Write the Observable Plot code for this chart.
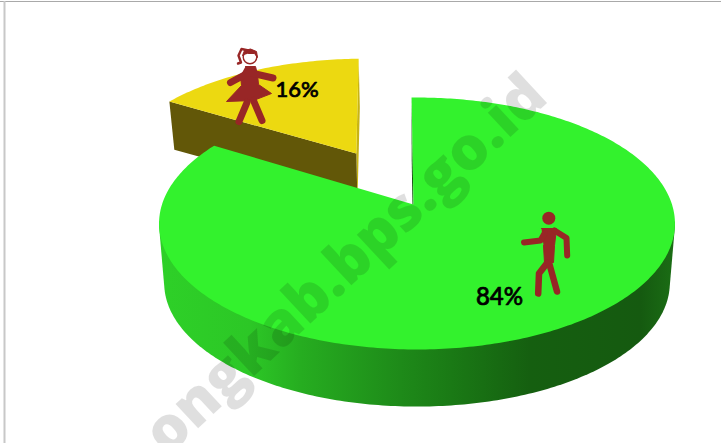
<!DOCTYPE html>
<html><head><meta charset="utf-8">
<script src="https://cdn.jsdelivr.net/npm/d3@7"></script>
<script src="https://cdn.jsdelivr.net/npm/@observablehq/plot@0.6"></script>
<style>html,body{margin:0;padding:0;background:#fff;overflow:hidden}</style>
</head><body><div id="chart"></div>
<script>
const categories = ["Laki-laki", "Perempuan"];
const values = [84, 16];
const labels = ["84%", "16%"];
const topColors = ["#33f22d", "#ecd911"];
const watermark = "ongkab.bps.go.id";

// Perspective view of the pie plane (reads as the 3D pie of the reference)
const view = {x0:416.5, y0:204, ax:255, by:123.1, k:0.1508, start:-1.4*Math.PI/180,
  explode:[0,0.511], rimShift:[0,0.003], apexShift:[-0.014,0.003], depth:[60,46], shrink:0.98};
const project = (X,Y) => {
  const w = 1 + view.k*Y;
  return [view.x0 + view.ax*X/w, view.y0 - view.by*Y/w];
};
const base = (p,i) => [view.x0+(p[0]-view.x0)*view.shrink, view.y0+(p[1]-view.y0)*view.shrink+view.depth[i]];

const arcs = d3.pie().sort(null).startAngle(view.start).endAngle(view.start+2*Math.PI)(values);
const wallStops = [[160,"#2ed028"],[250,"#2cc726"],[300,"#26ad20"],[400,"#1e8a19"],[450,"#1a7a15"],[530,"#155f10"],[640,"#155a10"],[675,"#1b6e15"]];

const polys = [];
const addPoly = (id,pts,c) => pts.forEach(p=>polys.push({id,x:p[0],y:p[1],c}));
arcs.forEach((a,i)=>{
  const mid=(a.startAngle+a.endAngle)/2, e=view.explode[i];
  const ox=e*Math.sin(mid), oy=e*Math.cos(mid);
  const apex=project(ox+view.apexShift[i],oy);
  const n=i===0?360:60;
  const ts=d3.range(n+1).map(j=>a.startAngle+(a.endAngle-a.startAngle)*j/n);
  const rim=ts.map(t=>project(ox+view.rimShift[i]+Math.sin(t),oy+Math.cos(t)));
  if(i===0){
    addPoly("cutA",[rim[0],apex,base(apex,i),base(rim[0],i)],"#14500f");
    const front=rim.filter((p,j)=>Math.cos(ts[j])<-0.12);
    addPoly("wall",d3.polygonHull([...front,...front.map(p=>base(p,i))]),"url(#wallGradient)");
  }else{
    addPoly("cutR",[rim[n],apex,base(apex,i),base(rim[n],i)],"#c8b414");
    addPoly("cutL",[rim[0],apex,base(apex,i),base(rim[0],i)],"#625708");
  }
  addPoly(`top${i}`,[apex,...rim],topColors[i]);
});
const yellowLayer = polys.filter(p=>p.id==="cutL"||p.id==="cutR"||p.id==="top1");
const greenLayer = polys.filter(p=>!yellowLayer.includes(p));

const polyMark = rows => Plot.line(rows,{x:"x",y:"y",z:"id",fill:"c",stroke:"none",curve:"linear"});

const gradientDefs = () => {
  const defs=d3.create("svg:defs");
  const g=defs.append("linearGradient").attr("id","wallGradient").attr("gradientUnits","userSpaceOnUse")
    .attr("x1",wallStops[0][0]).attr("x2",wallStops[wallStops.length-1][0]).attr("y1",0).attr("y2",0);
  const span=wallStops[wallStops.length-1][0]-wallStops[0][0];
  wallStops.forEach(([x,c])=>g.append("stop").attr("offset",(x-wallStops[0][0])/span).attr("stop-color",c));
  return defs.node();
};

// Pictograms
const iconColor="#982626";
const strokes=[
 {id:"ma1",w:6,pts:[[544,233],[540,240],[523.5,242]]},
 {id:"ma2",w:6,pts:[[554,230],[566,237.5],[566.7,255]]},
 {id:"ml1",w:6.5,pts:[[547,262],[538.5,273],[537.7,293]]},
 {id:"ml2",w:6.5,pts:[[548.5,262],[556.5,291]]},
 {id:"fa",w:7,pts:[[230,82],[248.5,72],[272.5,77.5]]},
 {id:"fl1",w:7,pts:[[246.5,102],[238.5,121]]},
 {id:"fl2",w:7,pts:[[253,100],[261.5,120]]},
 {id:"fh",w:2.4,pts:[[248,50],[241,48.5],[238,55],[240.5,62],[237.5,63]]}
];
const strokeRows=strokes.flatMap(s=>s.pts.map(p=>({id:s.id,w:s.w,x:p[0],y:p[1]})));
const fills=[
 {id:"skirt",pts:[[245,66],[255,66],[257,74],[258,84],[271,93],[253,100],[226,101],[241,85],[240,75]]},
 {id:"manBody",pts:[[541,228],[556,228],[554,245],[553,262],[544,262],[543,245]]},
 {id:"hair",pts:[[242,55],[244,50],[250,48.5],[256,51],[257,57],[254,53],[248,53]]}
].flatMap(s=>s.pts.map(p=>({id:s.id,x:p[0],y:p[1]})));
const heads=[{x:548.3,y:217.7,r:6.5,f:iconColor,s:"none"},{x:249.5,y:56.5,r:6.8,f:"#fff",s:iconColor}];
const labelRows=[{x:499,y:297,t:labels[0]},{x:296.5,y:89,t:labels[1]}];

const plot=Plot.plot({
  width:721,height:443,margin:0,
  x:{domain:[0,721],range:[0,721],axis:null},
  y:{domain:[0,443],range:[0,443],axis:null},
  color:{type:"identity"},
  r:{type:"identity"},
  marks:[
    gradientDefs,
    Plot.ruleY([1],{stroke:"#a8a8a8",strokeWidth:1}),
    Plot.ruleX([4],{stroke:"#c8c8c8",strokeWidth:2,y1:1,y2:443}),
    polyMark(yellowLayer),
    polyMark(greenLayer),
    Plot.dot(heads,{x:"x",y:"y",r:"r",fill:"f",stroke:"s",strokeWidth:1.4}),
    Plot.line(fills,{x:"x",y:"y",z:"id",fill:iconColor,stroke:iconColor,strokeWidth:1,curve:"linear"}),
    ...[2.4,6,6.5,7].map(w=>Plot.line(strokeRows.filter(d=>d.w===w),{x:"x",y:"y",z:"id",stroke:iconColor,strokeWidth:w,strokeLinecap:"round",strokeLinejoin:"round"})),
    Plot.text(labelRows.slice(0,1),{x:"x",y:"y",text:"t",fill:"#000",fontSize:24,fontFamily:"Lato",fontWeight:500,stroke:"#000",strokeWidth:0.7}),
    Plot.text(labelRows.slice(1),{x:"x",y:"y",text:"t",fill:"#000",fontSize:22,fontFamily:"Lato",fontWeight:500,stroke:"#000",strokeWidth:0.7}),
    Plot.text([watermark],{x:[345],y:[264],text:d=>d,rotate:-43,fontSize:60,fontFamily:"Open Sans",fontWeight:800,fill:"#000",fillOpacity:0.125})
  ]
});
document.getElementById("chart").append(plot);
</script></body></html>
